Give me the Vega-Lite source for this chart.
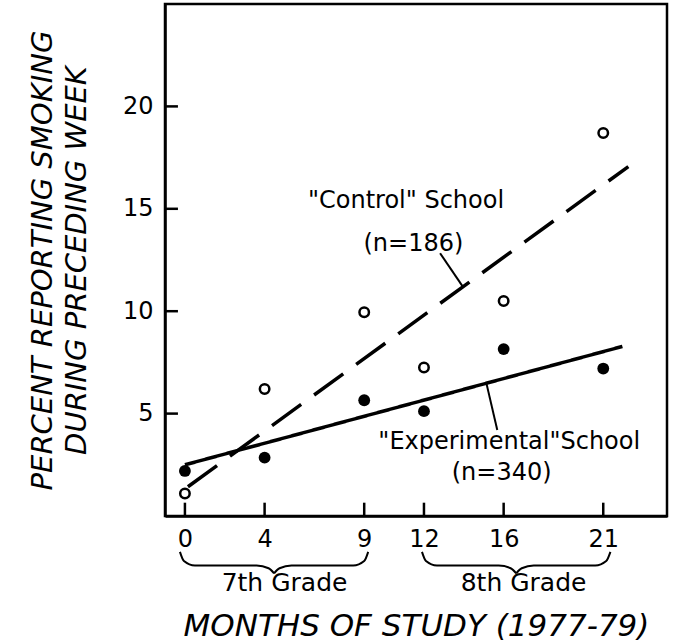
{
  "$schema": "https://vega.github.io/schema/vega-lite/v6.json",
  "width": 502,
  "height": 512,
  "autosize": {"type": "none"},
  "padding": {"left": 165, "top": 4, "right": 20, "bottom": 128},
  "background": "white",
  "config": {
    "view": {"stroke": "black", "strokeWidth": 2.5},
    "font": "DejaVu Sans",
    "axis": {
      "grid": false,
      "domainColor": "black",
      "domainWidth": 2.5,
      "ticks": false,
      "labelColor": "black",
      "labelFont": "DejaVu Sans",
      "labelFontSize": 24,
      "titleColor": "black",
      "titleFont": "DejaVu Sans",
      "titleFontStyle": "italic",
      "titleFontWeight": "normal",
      "titleFontSize": 29
    }
  },
  "datasets": {
    "points": [
      {"month": 0, "pct": 1.1, "school": "control"},
      {"month": 4, "pct": 6.2, "school": "control"},
      {"month": 9, "pct": 9.95, "school": "control"},
      {"month": 12, "pct": 7.25, "school": "control"},
      {"month": 16, "pct": 10.5, "school": "control"},
      {"month": 21, "pct": 18.7, "school": "control"},
      {"month": 0, "pct": 2.2, "school": "experimental"},
      {"month": 4, "pct": 2.85, "school": "experimental"},
      {"month": 9, "pct": 5.65, "school": "experimental"},
      {"month": 12, "pct": 5.12, "school": "experimental"},
      {"month": 16, "pct": 8.15, "school": "experimental"},
      {"month": 21, "pct": 7.2, "school": "experimental"}
    ],
    "fits": [
      {"school": "control", "month": 0.15, "pct": 1.43},
      {"school": "control", "month": 22.26, "pct": 17.06},
      {"school": "experimental", "month": 0, "pct": 2.5},
      {"school": "experimental", "month": 21.96, "pct": 8.28}
    ],
    "leaders": [
      {"month": 12.81, "pct": 12.83, "month2": 13.95, "pct2": 11.2},
      {"month": 15.13, "pct": 6.5, "month2": 15.68, "pct2": 4.2}
    ],
    "xticks": [
      {"month": 0, "pct": 0, "pct2": 0.65},
      {"month": 4, "pct": 0, "pct2": 0.65},
      {"month": 9, "pct": 0, "pct2": 0.65},
      {"month": 12, "pct": 0, "pct2": 0.65},
      {"month": 16, "pct": 0, "pct2": 0.65},
      {"month": 21, "pct": 0, "pct2": 0.65}
    ],
    "yticks": [
      {"pct": 5, "month": -1, "month2": -0.35},
      {"pct": 10, "month": -1, "month2": -0.35},
      {"pct": 15, "month": -1, "month2": -0.35},
      {"pct": 20, "month": -1, "month2": -0.35}
    ],
    "labels": [
      {"month": 11.1, "pct": 15.4, "text": "\"Control\" School"},
      {"month": 11.47, "pct": 13.3, "text": "(n=186)"},
      {"month": 16.28, "pct": 3.61, "text": "\"Experimental\"School"},
      {"month": 15.9, "pct": 2.1, "text": "(n=340)"}
    ],
    "braces": [
      {"part": "7a", "order": 1, "month": -0.25, "pct": -1.75},
      {"part": "7a", "order": 2, "month": -0.05, "pct": -2.2},
      {"part": "7a", "order": 3, "month": 0.5, "pct": -2.42},
      {"part": "7a", "order": 4, "month": 3.6, "pct": -2.42},
      {"part": "7a", "order": 5, "month": 4.2, "pct": -2.55},
      {"part": "7a", "order": 6, "month": 4.475, "pct": -2.8},
      {"part": "7b", "order": 1, "month": 4.475, "pct": -2.8},
      {"part": "7b", "order": 2, "month": 4.75, "pct": -2.55},
      {"part": "7b", "order": 3, "month": 5.35, "pct": -2.42},
      {"part": "7b", "order": 4, "month": 8.45, "pct": -2.42},
      {"part": "7b", "order": 5, "month": 9.0, "pct": -2.2},
      {"part": "7b", "order": 6, "month": 9.2, "pct": -1.75},
      {"part": "8a", "order": 1, "month": 11.9, "pct": -1.75},
      {"part": "8a", "order": 2, "month": 12.1, "pct": -2.2},
      {"part": "8a", "order": 3, "month": 12.65, "pct": -2.42},
      {"part": "8a", "order": 4, "month": 15.75, "pct": -2.42},
      {"part": "8a", "order": 5, "month": 16.35, "pct": -2.55},
      {"part": "8a", "order": 6, "month": 16.63, "pct": -2.8},
      {"part": "8b", "order": 1, "month": 16.63, "pct": -2.8},
      {"part": "8b", "order": 2, "month": 16.91, "pct": -2.55},
      {"part": "8b", "order": 3, "month": 17.51, "pct": -2.42},
      {"part": "8b", "order": 4, "month": 20.6, "pct": -2.42},
      {"part": "8b", "order": 5, "month": 21.15, "pct": -2.2},
      {"part": "8b", "order": 6, "month": 21.36, "pct": -1.75}
    ],
    "grades": [
      {"month": 5.0, "pct": -3.27, "text": "7th Grade"},
      {"month": 17.0, "pct": -3.27, "text": "8th Grade"}
    ]
  },
  "encoding": {
    "x": {
      "field": "month", "type": "quantitative",
      "scale": {"domain": [-1, 24.2], "nice": false, "zero": false},
      "axis": {
        "values": [0, 4, 9, 12, 16, 21],
        "title": "MONTHS OF STUDY (1977-79)",
        "titleFontSize": 31,
        "labelPadding": 11,
        "titlePadding": 60
      }
    },
    "y": {
      "field": "pct", "type": "quantitative",
      "scale": {"domain": [0, 25], "nice": false},
      "axis": {
        "values": [5, 10, 15, 20],
        "title": ["PERCENT REPORTING SMOKING", "DURING PRECEDING WEEK"],
        "titleLineHeight": 34,
        "labelPadding": 12,
        "titlePadding": 31
      }
    }
  },
  "layer": [
    {
      "data": {"name": "xticks"},
      "mark": {"type": "rule", "color": "black", "strokeWidth": 2.5},
      "encoding": {"y2": {"field": "pct2"}}
    },
    {
      "data": {"name": "yticks"},
      "mark": {"type": "rule", "color": "black", "strokeWidth": 2.5},
      "encoding": {"x2": {"field": "month2"}}
    },
    {
      "data": {"name": "fits"},
      "mark": {"type": "line", "color": "black", "strokeWidth": 3.5, "strokeCap": "butt"},
      "encoding": {
        "detail": {"field": "school"},
        "strokeDash": {
          "field": "school", "type": "nominal",
          "scale": {"domain": ["control", "experimental"], "range": [[36, 16], [1, 0]]},
          "legend": null
        }
      }
    },
    {
      "data": {"name": "leaders"},
      "mark": {"type": "rule", "color": "black", "strokeWidth": 2},
      "encoding": {
        "x2": {"field": "month2"},
        "y2": {"field": "pct2"}
      }
    },
    {
      "data": {"name": "points"},
      "transform": [{"filter": "datum.school === 'control'"}],
      "mark": {"type": "point", "shape": "circle", "filled": false, "stroke": "black", "strokeWidth": 2.5, "size": 90, "opacity": 1}
    },
    {
      "data": {"name": "points"},
      "transform": [{"filter": "datum.school === 'experimental'"}],
      "mark": {"type": "point", "shape": "circle", "filled": true, "fill": "black", "size": 140, "opacity": 1}
    },
    {
      "data": {"name": "labels"},
      "mark": {"type": "text", "fontSize": 24, "align": "center", "baseline": "middle", "color": "black"},
      "encoding": {"text": {"field": "text"}}
    },
    {
      "data": {"name": "braces"},
      "mark": {"type": "line", "color": "black", "strokeWidth": 2, "interpolate": "monotone", "clip": false},
      "encoding": {
        "detail": {"field": "part"},
        "order": {"field": "order", "type": "quantitative"}
      }
    },
    {
      "data": {"name": "grades"},
      "mark": {"type": "text", "fontSize": 25, "align": "center", "baseline": "middle", "color": "black", "clip": false},
      "encoding": {"text": {"field": "text"}}
    }
  ]
}
